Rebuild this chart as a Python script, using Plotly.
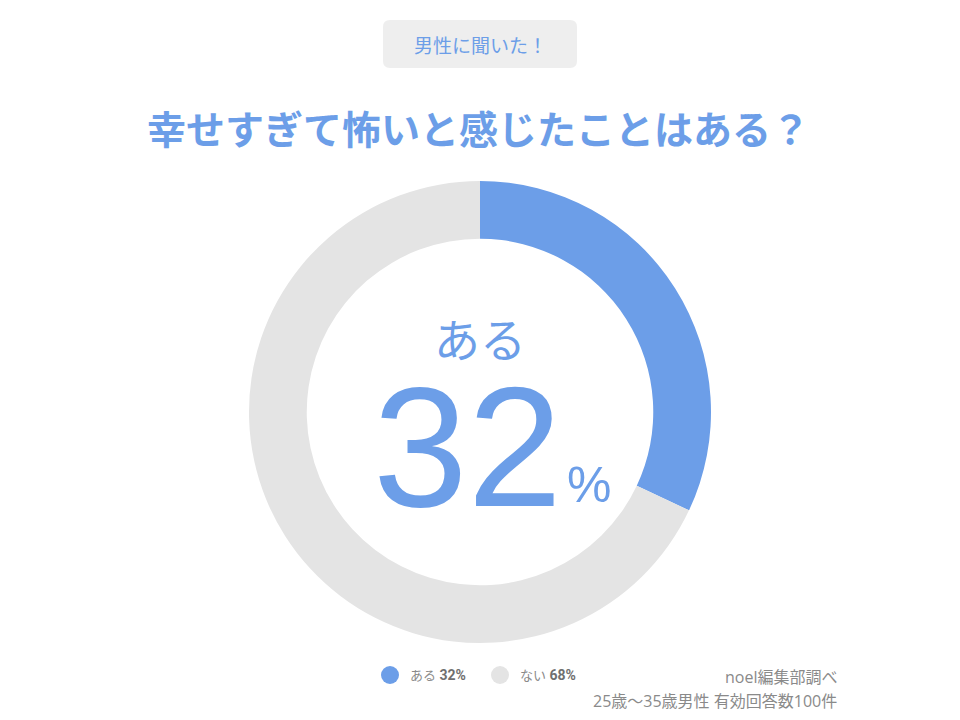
import plotly.graph_objects as go

labels = ["ある", "ない"]
values = [32, 68]
colors = ["#6c9ee8", "#e4e4e4"]
title_text = "幸せすぎて怖いと感じたことはある？"
badge_text = "男性に聞いた！"
source_lines = ["noel編集部調べ", "25歳〜35歳男性 有効回答数100件"]

W, H = 960, 720
FONT = "Noto Sans CJK JP"

fig = go.Figure()
fig.add_trace(go.Pie(
    labels=labels, values=values, hole=0.75, sort=False, direction="clockwise",
    rotation=0, marker=dict(colors=colors, line=dict(width=0)),
    textinfo="none", hoverinfo="label+percent", showlegend=False,
    domain=dict(x=[(480 - 231) / W, (480 + 231) / W], y=[1 - 643 / H, 1 - 181 / H]),
))

def px(x, y):
    return x / W, 1 - y / H

shapes = []
annotations = []

# badge (rounded rect)
def rrect(xa, ya, xb, yb, r):
    X = lambda v: v / W
    Y = lambda v: 1 - v / H
    return (f"M {X(xa + r)},{Y(ya)} L {X(xb - r)},{Y(ya)} Q {X(xb)},{Y(ya)} {X(xb)},{Y(ya + r)} "
            f"L {X(xb)},{Y(yb - r)} Q {X(xb)},{Y(yb)} {X(xb - r)},{Y(yb)} "
            f"L {X(xa + r)},{Y(yb)} Q {X(xa)},{Y(yb)} {X(xa)},{Y(yb - r)} "
            f"L {X(xa)},{Y(ya + r)} Q {X(xa)},{Y(ya)} {X(xa + r)},{Y(ya)} Z")

shapes.append(dict(type="path", xref="paper", yref="paper", path=rrect(383, 20, 577, 68, 7),
                   fillcolor="#eeeeee", line=dict(width=0), layer="below"))
bx, by = px(480, 44)
annotations.append(dict(x=bx, y=by, text=badge_text, showarrow=False,
                        font=dict(family=FONT, size=19, color="#6c9ee8")))

# title
tx, ty = px(478, 127)
annotations.append(dict(x=tx, y=ty, text="<b>" + title_text + "</b>", showarrow=False,
                        font=dict(family=FONT, size=39, color="#6c9ee8")))

# center text
cx, cy = px(480, 337)
annotations.append(dict(x=cx, y=cy, text=labels[0], showarrow=False,
                        font=dict(family=FONT, size=46, color="#6c9ee8")))
nx, ny = px(467, 447)
annotations.append(dict(x=nx, y=ny, text=str(values[0]), showarrow=False,
                        font=dict(family="Liberation Sans", size=170, color="#6c9ee8")))
pxx, pyy = px(589, 485)
annotations.append(dict(x=pxx, y=pyy, text="%", showarrow=False,
                        font=dict(family="Liberation Sans", size=50, color="#6c9ee8")))

# legend
legend_x = [390, 500]
for i, (lab, val) in enumerate(zip(labels, values)):
    lx = legend_x[i]
    a0, b0 = px(lx - 9, 666)
    a1, b1 = px(lx + 9, 684)
    shapes.append(dict(type="circle", xref="paper", yref="paper", x0=a0, y0=b1, x1=a1, y1=b0,
                       fillcolor=colors[i], line=dict(width=0)))
    tlx, tly = px(lx + 18, 675)
    annotations.append(dict(x=tlx, y=tly, xanchor="left", showarrow=False,
                            text=f"<span style='font-size:13px;color:#8a8a8a'>{lab}</span> <b>{val}%</b>",
                            font=dict(family="Roboto, Noto Sans CJK JP", size=14, color="#707070")))

# source
for j, line in enumerate(source_lines):
    sx, sy = px(839, 677 + j * 24)
    annotations.append(dict(x=sx, y=sy, xanchor="right", text=line, showarrow=False,
                            font=dict(family="Open Sans, Noto Sans CJK JP", size=16, color="#8a8a8a")))

for a in annotations:
    a.update(xref="paper", yref="paper", yanchor="middle")
    a.setdefault("xanchor", "center")

fig.update_layout(width=W, height=H, margin=dict(l=0, r=0, t=0, b=0),
                  paper_bgcolor="white", plot_bgcolor="white",
                  shapes=shapes, annotations=annotations)
fig.write_html("out.html", config={"displayModeBar": False},
               post_script="document.body.style.margin='0';")
